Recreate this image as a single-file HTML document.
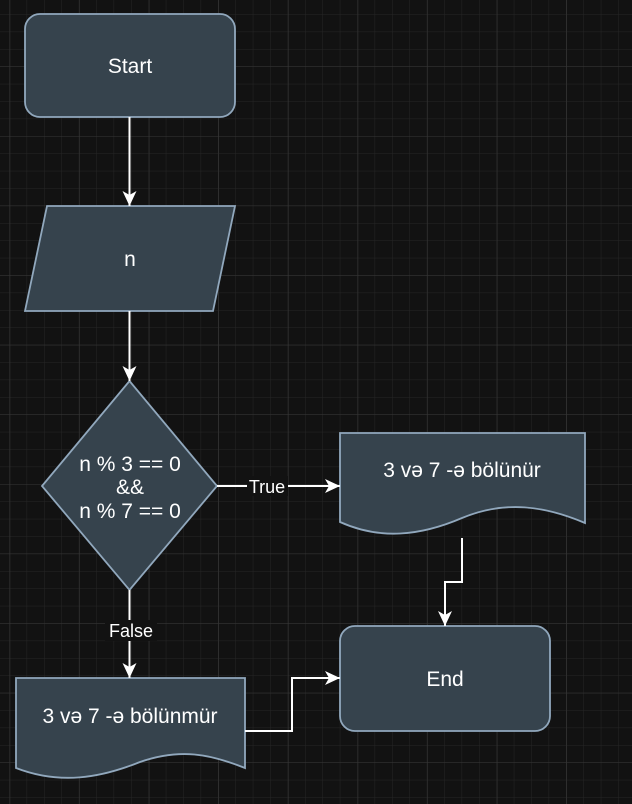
<!DOCTYPE html>
<html><head><meta charset="utf-8"><style>
html,body{margin:0;padding:0;background:#121212;}
svg{display:block;}
text{font-family:"Liberation Sans",Arial,sans-serif;fill:#fff;font-size:21px;text-anchor:middle;}
</style></head><body>
<svg width="632" height="804" viewBox="0 0 632 804" xmlns="http://www.w3.org/2000/svg">
<defs>
<pattern id="g" x="9.2" y="14.2" width="17.4" height="17.4" patternUnits="userSpaceOnUse">
<path d="M0,0H17.4M0,0V17.4" stroke="#262626" stroke-width="1" fill="none"/>
</pattern>
<pattern id="G" x="427.3" y="136" width="69.6" height="69.6" patternUnits="userSpaceOnUse">
<path d="M0,0H69.6M0,0V69.6" stroke="#363636" stroke-width="1" fill="none"/>
</pattern>
<marker id="a" markerWidth="16" markerHeight="14" refX="15" refY="7" orient="auto" markerUnits="userSpaceOnUse">
<path d="M0,0 L15,7 L0,14 L4,7 Z" fill="#fff"/>
</marker>
</defs>
<rect width="632" height="804" fill="#121212"/>
<rect width="632" height="804" fill="url(#g)"/>
<rect width="632" height="804" fill="url(#G)"/>

<g fill="#36434d" stroke="#91a8bd" stroke-width="1.8">
<rect x="25" y="14" width="210" height="103" rx="15"/>
<polygon points="47,206 235,206 213,311 25,311"/>
<polygon points="129.5,381 217,486 129.5,590 42,486"/>
<path d="M340,433 H585 V523 C545,506 505,500 462,518 C420,536 380,540 340,522 Z"/>
<path d="M16,678 H245 V768 C210,754 180,748 140,762 C100,778 60,785 16,768 Z"/>
<rect x="340" y="626" width="210" height="105" rx="15"/>
</g>

<g stroke="#fff" stroke-width="2" fill="none">
<path d="M129.5,117 V206" marker-end="url(#a)"/>
<path d="M129.5,311 V381" marker-end="url(#a)"/>
<path d="M217,486 H340" marker-end="url(#a)"/>
<path d="M129.5,590 V678" marker-end="url(#a)"/>
<path d="M462,538 V582 H445 V626" marker-end="url(#a)"/>
<path d="M245,731 H292 V678 H340" marker-end="url(#a)"/>
</g>
<rect x="247" y="476" width="41" height="20" fill="#121212"/>
<rect x="105" y="620" width="52" height="21" fill="#121212"/>

<text x="130" y="73">Start</text>
<text x="130" y="266">n</text>
<text x="130" y="471">n % 3 == 0</text>
<text x="130" y="494">&amp;&amp;</text>
<text x="130" y="518">n % 7 == 0</text>
<text x="267" y="493" style="font-size:18px">True</text>
<text x="131" y="637" style="font-size:18px">False</text>
<text x="462" y="477">3 və 7 -ə bölünür</text>
<text x="130" y="723">3 və 7 -ə bölünmür</text>
<text x="445" y="686">End</text>
</svg>
</body></html>
